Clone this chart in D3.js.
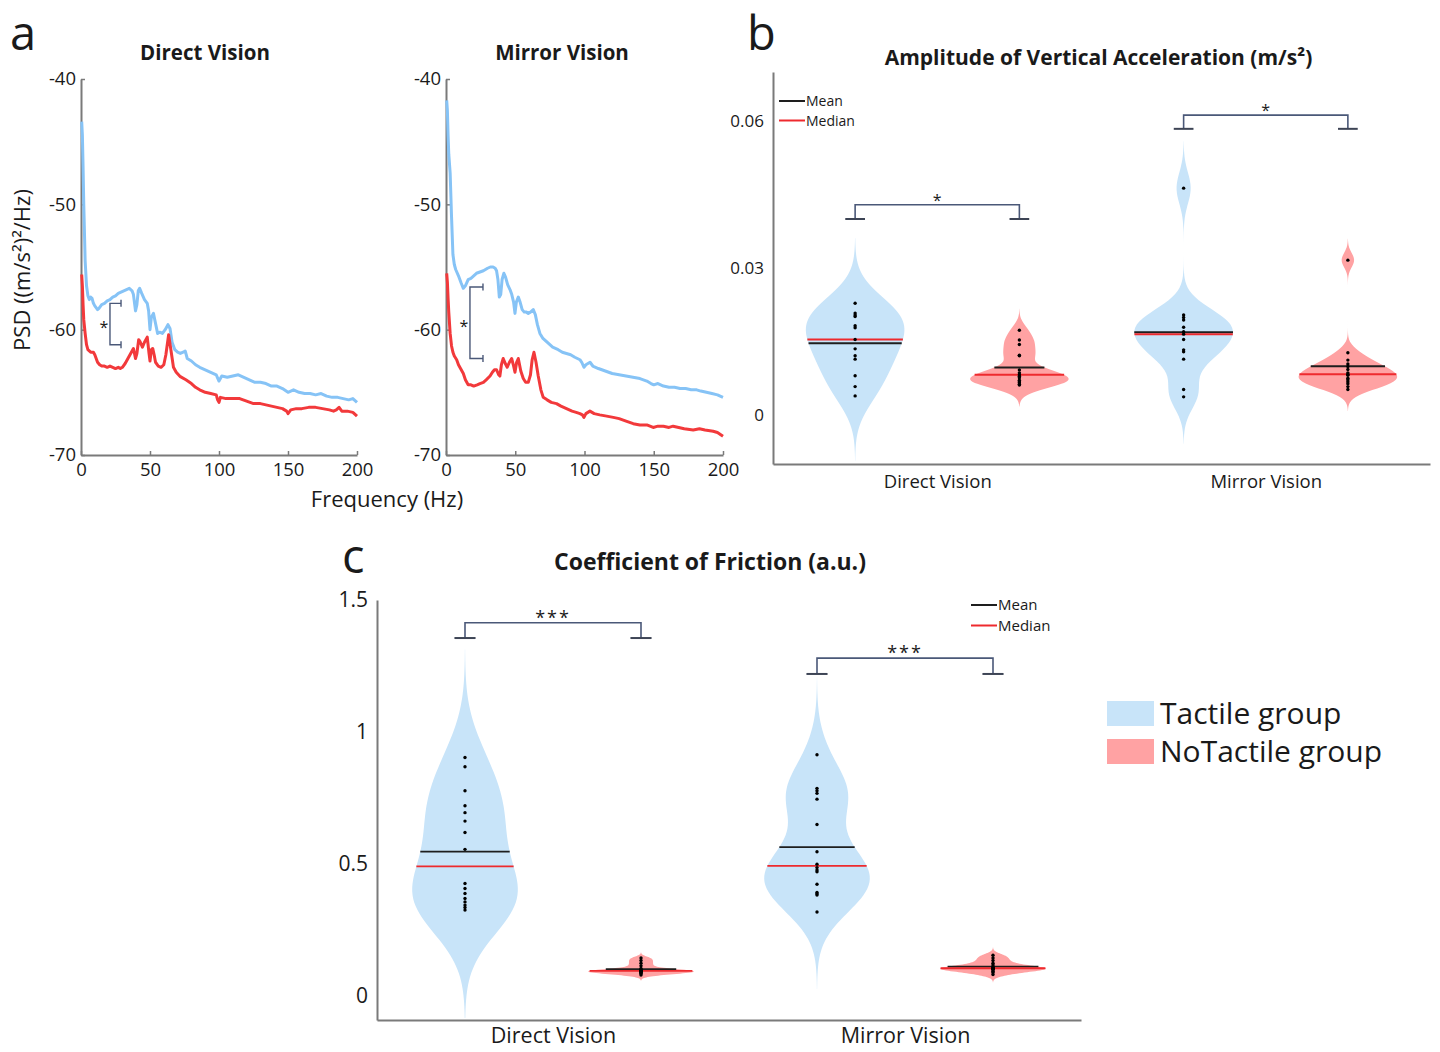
<!DOCTYPE html>
<html><head><meta charset="utf-8">
<script src="https://cdn.jsdelivr.net/npm/d3@7"></script>
<style>
body{margin:0;background:#fff}
svg{display:block}
text{font-family:"Open Sans","Noto Sans",sans-serif;fill:#1a1a1a}
</style>
</head><body>
<svg id="fig" width="1440" height="1052"></svg>
<script>
// ---------------- DATA ----------------
// Panel a: PSD spectra [frequency Hz, PSD dB]
const psdDirectTactile = [[0.5,-43.4],[1,-44.5],[1.5,-47],[2,-50],[3,-54.5],[4,-56.5],[5,-57.3],[6,-57.6],[7,-57.4],[8,-57.5],[9,-57.9],[10,-58.1],[12,-58.4],[13,-58.3],[15,-58.0],[17,-57.9],[19,-57.7],[21,-57.6],[23,-57.4],[25,-57.3],[27,-57.1],[29,-57.0],[31,-56.9],[33,-56.8],[35,-56.7],[37,-56.9],[38,-57.2],[39.5,-58.5],[40.5,-58.0],[41.5,-56.9],[42.5,-56.7],[44,-57.1],[46,-57.6],[48,-57.9],[49,-58.5],[50,-60.0],[51,-59.0],[52.5,-58.7],[54,-59.5],[55.5,-60.3],[57,-60.2],[59,-60.3],[61,-60.0],[63,-59.6],[64.5,-59.9],[66,-61.0],[68,-61.6],[70,-61.8],[72,-61.9],[74,-61.8],[75.5,-61.7],[77,-62.3],[80,-62.5],[83,-62.8],[86,-63.0],[90,-63.2],[94,-63.4],[98,-63.6],[100,-64.1],[102,-63.7],[106,-63.8],[110,-63.7],[114,-63.6],[118,-63.8],[122,-64.0],[126,-64.2],[130,-64.2],[134,-64.3],[138,-64.5],[142,-64.5],[146,-64.7],[150,-65.0],[154,-64.8],[158,-65.0],[162,-65.1],[166,-65.1],[170,-65.2],[174,-65.1],[178,-65.3],[182,-65.4],[186,-65.4],[190,-65.5],[194,-65.6],[197,-65.5],[200,-65.8]];
const psdDirectNoTactile = [[0.5,-55.6],[1,-56.5],[1.5,-58],[2,-59.2],[3,-60.3],[4,-61.2],[5,-61.6],[7,-61.8],[9,-61.8],[10,-62.0],[12,-62.6],[13.5,-62.8],[15,-62.9],[17,-62.9],[19,-63.0],[21,-62.9],[23,-63.0],[25,-63.1],[27,-63.0],[28.5,-63.1],[30,-63.0],[32,-62.7],[34,-62.3],[36,-61.9],[38,-61.5],[39.5,-62.3],[40.5,-61.9],[41.8,-60.8],[43,-61.0],[44.5,-61.4],[46,-61.0],[48,-60.6],[49.2,-61.8],[50,-62.5],[51,-61.6],[52,-61.5],[53,-62.0],[54,-62.6],[56,-62.9],[58,-63.0],[60,-62.8],[61.5,-62.0],[63.5,-60.4],[65,-61.5],[67,-63.0],[69,-63.4],[72,-63.75],[76,-64.0],[80,-64.3],[83,-64.6],[86,-64.8],[90,-65.0],[94,-65.1],[98,-65.2],[99,-65.6],[100,-65.8],[101,-65.4],[105,-65.5],[110,-65.5],[115,-65.5],[120,-65.7],[125,-65.9],[130,-65.9],[134,-66.0],[138,-66.1],[142,-66.2],[146,-66.3],[149,-66.5],[150,-66.7],[152,-66.4],[156,-66.3],[160,-66.3],[165,-66.2],[170,-66.2],[175,-66.3],[180,-66.4],[183,-66.5],[185,-66.4],[187,-66.2],[189,-66.5],[193,-66.5],[197,-66.6],[200,-66.9]];
const psdMirrorTactile = [[0.5,-41.7],[1,-42.5],[1.5,-44.5],[2,-46],[3,-47.5],[4,-51],[5,-54],[6,-54.8],[7,-55.2],[9,-55.7],[11,-56.3],[12.5,-56.7],[14,-56.5],[16,-56.0],[18,-55.9],[20,-55.7],[22,-55.5],[24.5,-55.4],[27,-55.3],[30,-55.1],[32,-55.0],[34,-55.0],[35.5,-55.1],[36.5,-55.3],[37.5,-56.0],[38.5,-57.4],[39.5,-57.2],[40.5,-56.0],[41.8,-55.5],[43,-55.8],[44.5,-56.4],[46.2,-56.8],[47.5,-57.2],[48.8,-57.8],[49.8,-58.7],[50.8,-57.8],[52.2,-57.4],[53.5,-57.8],[55,-58.4],[56.5,-58.6],[58,-58.6],[59.4,-58.7],[61,-58.6],[63,-58.4],[64.5,-58.8],[66,-59.6],[67.8,-60.3],[70,-60.7],[73,-61.0],[77,-61.4],[81,-61.6],[84,-61.8],[87,-61.9],[90,-62.0],[93,-62.2],[96.7,-62.4],[98,-62.6],[99.6,-63.0],[101,-62.8],[104,-62.6],[106,-62.9],[110,-63.1],[115,-63.3],[120,-63.5],[125,-63.6],[130,-63.7],[135,-63.8],[140,-63.9],[145,-64.1],[148,-64.3],[150,-64.4],[153,-64.3],[157,-64.5],[161,-64.6],[165,-64.6],[169,-64.7],[173,-64.7],[177,-64.8],[181,-64.8],[184,-64.9],[188,-65.0],[192,-65.1],[196,-65.2],[200,-65.4]];
const psdMirrorNoTactile = [[0.5,-55.5],[1,-56.2],[1.5,-57.5],[2,-58.6],[3,-60.3],[4,-61.3],[5,-61.8],[6,-62.1],[7.7,-62.4],[9,-62.8],[10.5,-63.1],[12.5,-63.5],[14,-64.0],[16,-64.4],[18,-64.4],[20,-64.5],[22.5,-64.4],[24.5,-64.3],[27,-64.2],[29,-64.0],[31.8,-63.7],[33.5,-63.4],[35,-63.2],[36.5,-63.2],[38,-63.6],[38.9,-63.7],[40,-62.8],[41.3,-62.3],[42.8,-62.7],[44.2,-63.0],[45.8,-62.6],[47.4,-62.3],[48.6,-62.8],[49.8,-63.4],[51,-62.6],[52.2,-62.3],[54,-63.3],[55.8,-63.9],[57.5,-64.2],[59.4,-64.2],[61,-63.6],[62.2,-62.4],[63.5,-61.8],[65,-62.6],[66.6,-63.7],[68.5,-64.8],[70.2,-65.4],[73,-65.6],[76,-65.8],[79.8,-65.9],[83,-66.1],[87,-66.3],[91,-66.5],[94,-66.6],[96.7,-66.7],[98.5,-66.8],[99.6,-67.0],[101,-66.7],[103.9,-66.5],[107,-66.7],[111,-66.8],[116,-66.9],[120.8,-67.0],[125,-67.1],[130,-67.3],[135.2,-67.5],[140,-67.6],[145,-67.6],[149.6,-67.8],[153,-67.7],[157,-67.7],[161,-67.8],[164,-67.7],[168,-67.8],[172,-67.9],[178.5,-68.0],[183,-67.9],[187,-68.0],[192.9,-68.1],[196,-68.2],[200,-68.5]];
const psdTicksX = [0,50,100,150,200];
const psdTicksY = [-40,-50,-60,-70];
// significance brackets in panel a: [freq of bar, freq of caps, upper dB, lower dB]
const psdBracketDirect = [21, 29, -57.9, -61.2];
const psdBracketMirror = [17.3, 26.7, -56.6, -62.3];

// Panel b: amplitude of vertical acceleration (m/s²)
const conditions = ["Direct Vision", "Mirror Vision"];
const groups = ["Tactile group", "NoTactile group"];
const ampDirectTactile = [0.0228,0.0208,0.0204,0.0201,0.0182,0.0178,0.0154,0.0135,0.0121,0.0114,0.0080,0.0058,0.0039];
const ampDirectNoTactile = [0.0173,0.0153,0.0144,0.0122,0.0121,0.0092,0.0086,0.0082,0.0079,0.0076,0.0071,0.0068,0.0066,0.0063,0.0061];
const ampMirrorTactile = [0.0463,0.0204,0.0199,0.0194,0.0179,0.0170,0.0165,0.0154,0.0133,0.0129,0.0114,0.0052,0.0037];
const ampMirrorNoTactile = [0.0316,0.0127,0.0112,0.0104,0.0099,0.0093,0.0086,0.0083,0.0081,0.0075,0.0072,0.0068,0.0064,0.0058,0.0052];
const ampTicks = [0, 0.03, 0.06];
const ampBracketBars = [0.0429, 0.0612];
const ampBracketFeet = [0.0400, 0.0584];
const ampBracketLabels = ["*", "*"];

// Panel c: coefficient of friction (a.u.)
const fricDirectTactile = [0.904,0.869,0.778,0.721,0.695,0.663,0.620,0.556,0.427,0.408,0.389,0.370,0.357,0.345,0.336,0.326];
const fricDirectNoTactile = [0.145,0.135,0.125,0.115,0.105,0.100,0.098,0.096,0.095,0.094,0.092,0.090,0.088,0.085,0.080];
const fricMirrorTactile = [0.914,0.787,0.778,0.768,0.746,0.650,0.547,0.500,0.487,0.478,0.471,0.424,0.393,0.388,0.383,0.319];
const fricMirrorNoTactile = [0.155,0.145,0.135,0.125,0.118,0.112,0.108,0.106,0.105,0.104,0.102,0.100,0.095,0.090,0.082];
const fricTicks = [0, 0.5, 1, 1.5];
const fricBracketBars = [1.414, 1.280];
const fricBracketFeet = [1.356, 1.220];
const fricBracketLabels = ["***", "***"];

// ---------------- STYLE ----------------
const BLUE_LINE = "#86c3f6", RED_LINE = "#f2393b";
const BLUE_FILL = "#c8e4f9", RED_FILL = "#ffa2a3";
const AXIS = "#7a7a7a", BRACKET = "#4a5878";
const MEAN_C = "#1e1e1e", MEDIAN_C = "#ee2a2e";

const svg = d3.select("#fig");

// panel letters
[["a",10,50],["b",747,50],["c",342,573]].forEach(([t,x,y]) =>
  svg.append("text").attr("x",x).attr("y",y).attr("font-size",47).text(t));

function styleAxis(g, fs) {
  g.select(".domain").attr("stroke", AXIS).attr("stroke-width", 2);
  g.selectAll(".tick line").attr("stroke", AXIS).attr("stroke-width", 1.5);
  g.selectAll(".tick text").attr("font-size", fs).attr("fill", "#262626")
    .attr("font-family", '"Open Sans",sans-serif');
}

// ---------------- PANEL A ----------------
function psdPanel(left, right, title, titleX, tact, notact, br) {
  const x = d3.scaleLinear().domain([0, 200]).range([left, right]);
  const y = d3.scaleLinear().domain([-70, -40]).range([455, 79]);
  const g = svg.append("g");
  const ax = g.append("g").attr("transform", `translate(0,${y(-70)})`)
    .call(d3.axisBottom(x).tickValues(psdTicksX).tickSizeInner(-4).tickSizeOuter(0).tickPadding(8).tickFormat(d => String(d)));
  styleAxis(ax, 18.5);
  const ay = g.append("g").attr("transform", `translate(${x(0)},0)`)
    .call(d3.axisLeft(y).tickValues(psdTicksY).tickSizeInner(-4).tickSizeOuter(0).tickPadding(5).tickFormat(d => String(d)));
  styleAxis(ay, 18.5);
  const line = d3.line().x(d => x(d[0])).y(d => y(d[1])).curve(d3.curveLinear);
  g.append("path").datum(tact).attr("d", line).attr("fill", "none")
    .attr("stroke", BLUE_LINE).attr("stroke-width", 3).attr("stroke-linejoin", "round");
  g.append("path").datum(notact).attr("d", line).attr("fill", "none")
    .attr("stroke", RED_LINE).attr("stroke-width", 3).attr("stroke-linejoin", "round");
  // bracket
  const [fb, fc, top, bot] = br;
  const bp = d3.path();
  bp.moveTo(x(fc), y(top)); bp.lineTo(x(fb), y(top)); bp.lineTo(x(fb), y(bot)); bp.lineTo(x(fc), y(bot));
  bp.moveTo(x(fc), y(top) - 3.5); bp.lineTo(x(fc), y(top) + 3.5);
  bp.moveTo(x(fc), y(bot) - 3.5); bp.lineTo(x(fc), y(bot) + 3.5);
  g.append("path").attr("d", bp.toString()).attr("fill", "none").attr("stroke", BRACKET).attr("stroke-width", 1.4);
  g.append("text").attr("x", x(fb) - 6).attr("y", (y(top) + y(bot)) / 2 + 9)
    .attr("text-anchor", "middle").attr("font-size", 16).text("*");
  g.append("text").attr("x", titleX).attr("y", 60).attr("text-anchor", "middle")
    .attr("font-size", 20.5).attr("font-weight", "bold").text(title);
}
psdPanel(81, 357, "Direct Vision", 205, psdDirectTactile, psdDirectNoTactile, psdBracketDirect);
psdPanel(446, 723, "Mirror Vision", 562, psdMirrorTactile, psdMirrorNoTactile, psdBracketMirror);
svg.append("text").attr("x", 387).attr("y", 507).attr("text-anchor", "middle").attr("font-size", 22).text("Frequency (Hz)");
svg.append("text").attr("transform", "translate(30,270) rotate(-90)").attr("text-anchor", "middle")
  .attr("font-size", 22).text("PSD ((m/s²)²/Hz)");

// ---------------- VIOLIN HELPERS ----------------
function kde(vals) {
  const n = vals.length;
  const med = d3.median(vals);
  const mad = d3.median(vals.map(v => Math.abs(v - med)));
  const u = (mad / 0.6745) * Math.pow(4 / (3 * n), 0.2);
  const lo = d3.min(vals) - 3 * u, hi = d3.max(vals) + 3 * u;
  const dens = v => d3.sum(vals, d => Math.exp(-0.5 * ((v - d) / u) ** 2));
  const pts = d3.range(100).map(i => { const v = lo + (hi - lo) * i / 99; return [v, dens(v)]; });
  const mx = d3.max(pts, p => p[1]);
  pts.forEach(p => p[1] /= mx);
  return { pts, at: v => dens(v) / mx };
}

function violinPanel(opts) {
  const { xRange, yDom, yRange, series, ticks, tickFmt, fs, catFs, catPad, title, titleY, titleFs,
          bars, feet, labels, starFs, legendX, legendY, legendFs, legendGap, lineW } = opts;
  const x = d3.scaleLinear().domain([0.5, 4.5]).range(xRange);
  const y = d3.scaleLinear().domain(yDom).range(yRange);
  const g = svg.append("g");
  const ay = g.append("g").attr("transform", `translate(${xRange[0]},0)`)
    .call(d3.axisLeft(y).tickValues(ticks).tickSize(0).tickPadding(9).tickFormat(tickFmt));
  styleAxis(ay, fs);
  const ax = g.append("g").attr("transform", `translate(0,${yRange[0]})`)
    .call(d3.axisBottom(x).tickValues([1.5, 3.5]).tickSize(0).tickPadding(catPad).tickFormat((d, i) => conditions[i]));
  styleAxis(ax, catFs);
  ax.selectAll(".tick text").attr("fill", "#333");

  series.forEach((vals, i) => {
    const pos = i + 1;
    const fill = i % 2 === 0 ? BLUE_FILL : RED_FILL;
    const k = kde(vals);
    const hw = d => x(pos + 0.3 * d) - x(pos);
    const area = d3.area().y(p => y(p[0])).x0(p => x(pos) - hw(p[1])).x1(p => x(pos) + hw(p[1]));
    g.append("path").datum(k.pts).attr("d", area).attr("fill", fill);
    const mean = d3.mean(vals), median = d3.median(vals);
    [[mean, MEAN_C], [median, MEDIAN_C]].forEach(([v, c]) => {
      const w = hw(k.at(v));
      g.append("line").attr("x1", x(pos) - w).attr("x2", x(pos) + w)
        .attr("y1", y(v)).attr("y2", y(v)).attr("stroke", c).attr("stroke-width", lineW);
    });
    g.selectAll(null).data(vals).enter().append("circle")
      .attr("cx", x(pos)).attr("cy", d => y(d)).attr("r", 1.7).attr("fill", "#000");
  });

  // significance brackets
  bars.forEach((b, i) => {
    const p1 = 2 * i + 1, p2 = 2 * i + 2;
    const p = d3.path();
    p.moveTo(x(p1), y(feet[i])); p.lineTo(x(p1), y(b)); p.lineTo(x(p2), y(b)); p.lineTo(x(p2), y(feet[i]));
    g.append("path").attr("d", p.toString()).attr("fill", "none").attr("stroke", BRACKET).attr("stroke-width", 1.6);
    [p1, p2].forEach(pp => g.append("line").attr("x1", x(pp - 0.06)).attr("x2", x(pp + 0.06))
      .attr("y1", y(feet[i])).attr("y2", y(feet[i])).attr("stroke", "#3d4455").attr("stroke-width", 2));
    g.append("text").attr("x", (x(p1) + x(p2)) / 2).attr("y", y(b) + 1)
      .attr("text-anchor", "middle").attr("font-size", starFs).attr("letter-spacing", labels[i].length > 1 ? 2 : 0)
      .text(labels[i]);
  });

  // mean/median legend
  [["Mean", MEAN_C], ["Median", MEDIAN_C]].forEach(([t, c], i) => {
    const yy = legendY + i * legendGap;
    g.append("line").attr("x1", legendX).attr("x2", legendX + 26).attr("y1", yy).attr("y2", yy)
      .attr("stroke", c).attr("stroke-width", 2);
    g.append("text").attr("x", legendX + 27).attr("y", yy + legendFs * 0.36).attr("font-size", legendFs).text(t);
  });

  svg.append("text").attr("x", (xRange[0] + xRange[1]) / 2 + (opts.titleDx || 0)).attr("y", titleY)
    .attr("text-anchor", "middle").attr("font-size", titleFs).attr("font-weight", "bold").text(title);
}

// ---------------- PANEL B ----------------
violinPanel({
  xRange: [773, 1430], yDom: [-0.01, 0.07], yRange: [464, 72],
  series: [ampDirectTactile, ampDirectNoTactile, ampMirrorTactile, ampMirrorNoTactile],
  ticks: ampTicks, tickFmt: d => d === 0 ? "0" : d.toFixed(2), fs: 17, catFs: 18.5, catPad: 11,
  title: "Amplitude of Vertical Acceleration (m/s²)", titleY: 65, titleFs: 21, titleDx: -3,
  bars: ampBracketBars, feet: ampBracketFeet, labels: ampBracketLabels, starFs: 16,
  legendX: 779, legendY: 101, legendFs: 14, legendGap: 19.5, lineW: 2
});

// ---------------- PANEL C ----------------
violinPanel({
  xRange: [377, 1081], yDom: [-0.09, 1.5], yRange: [1020, 600],
  series: [fricDirectTactile, fricDirectNoTactile, fricMirrorTactile, fricMirrorNoTactile],
  ticks: fricTicks, tickFmt: d => String(d), fs: 21, catFs: 21.5, catPad: 8,
  title: "Coefficient of Friction (a.u.)", titleY: 570, titleFs: 23, titleDx: -19,
  bars: fricBracketBars, feet: fricBracketFeet, labels: fricBracketLabels, starFs: 18,
  legendX: 971, legendY: 605, legendFs: 15, legendGap: 20.5, lineW: 1.8
});

// ---------------- GROUP LEGEND ----------------
groups.forEach((t, i) => {
  svg.append("rect").attr("x", 1107).attr("y", 701 + i * 38).attr("width", 47).attr("height", 25)
    .attr("fill", i === 0 ? BLUE_FILL : RED_FILL);
  svg.append("text").attr("x", 1160).attr("y", 724 + i * 38).attr("font-size", 30).text(t);
});
</script>
</body></html>
